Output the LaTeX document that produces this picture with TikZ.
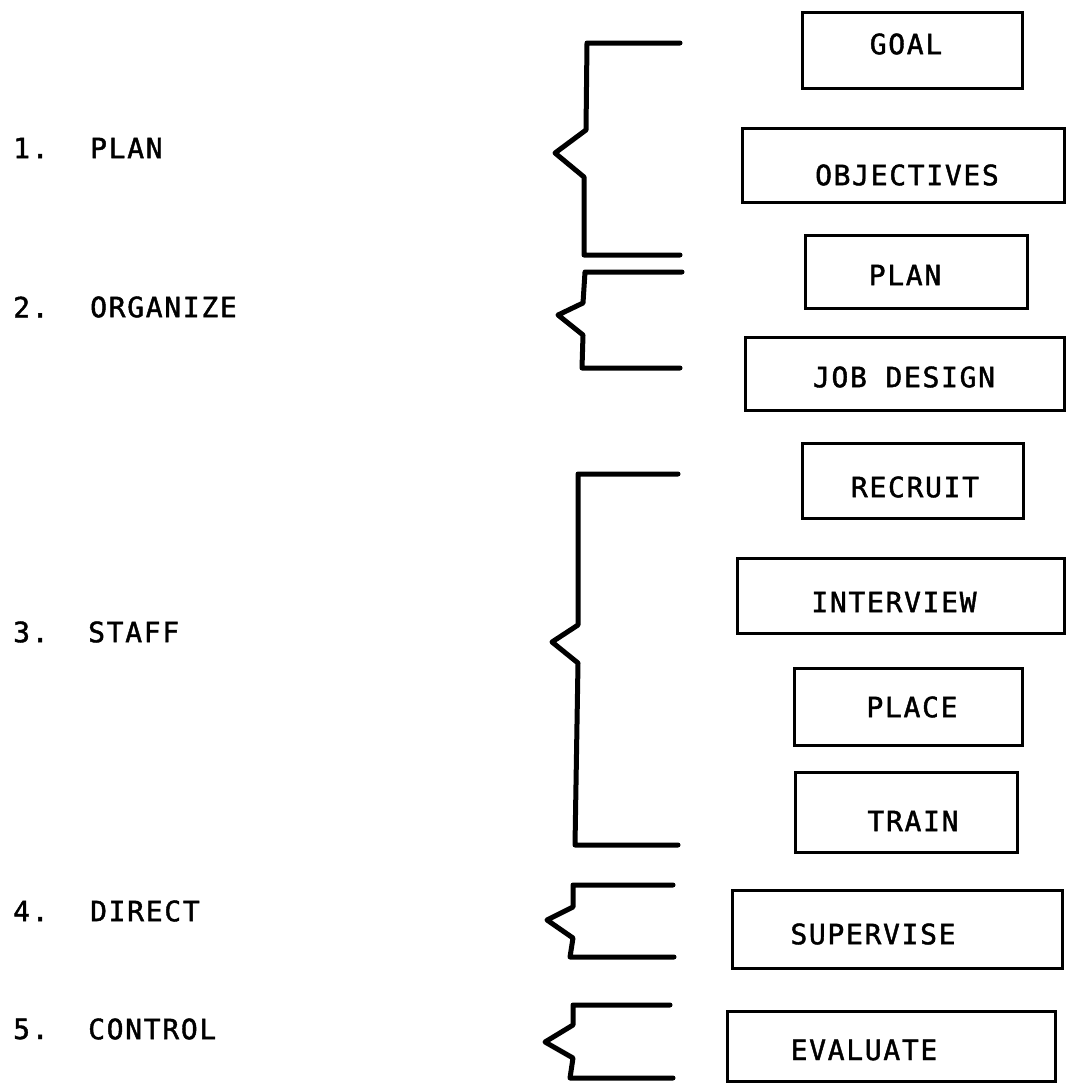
\documentclass[tikz,border=0pt]{standalone}
\usepackage{fontspec}
\newfontfamily\typ[LetterSpace=6,FakeBold=1.5]{DejaVu Sans Mono}
\begin{document}
\begin{tikzpicture}[x=1pt,y=-1pt,
  brace/.style={line width=5pt, line join=round, line cap=round},
  box/.style={draw, line width=3pt, inner sep=0pt},
  txt/.style={inner sep=0pt, font=\typ\fontsize{28}{28}\selectfont},
  lab/.style={txt, anchor=west}]
\useasboundingbox (0,0) rectangle (1066,1084);
% left labels
\node[lab] (n1) at (13,148) {1.};  \node[lab] (l1) at (90,148) {PLAN};
\node[lab] (n2) at (13,307) {2.};  \node[lab] (l2) at (90,307) {ORGANIZE};
\node[lab] (n3) at (13,632) {3.};  \node[lab] (l3) at (88,632) {STAFF};
\node[lab] (n4) at (13,911) {4.};  \node[lab] (l4) at (90,911) {DIRECT};
\node[lab] (n5) at (13,1029) {5.}; \node[lab] (l5) at (88,1029) {CONTROL};
% braces
\draw[brace] (680,43) -- (587,43) -- (586,130) -- (555,153) -- (584,177) -- (584,255) -- (680,255);
\draw[brace] (682,272) -- (585,272) -- (583,303) -- (558,315) -- (583,335) -- (582,368) -- (680,368);
\draw[brace] (678,474) -- (578,474) -- (578,625) -- (552,642) -- (578,663) -- (575,845) -- (678,845);
\draw[brace] (673,885) -- (573,885) -- (573,907) -- (547,920) -- (573,938) -- (570,957) -- (674,957);
\draw[brace] (670,1005) -- (573,1005) -- (573,1025) -- (545,1042) -- (573,1058) -- (570,1078) -- (673,1078);
% boxes
\node[box, minimum width=220pt, minimum height=76pt] (goal) at (912,50) {};
\node[txt] (goalt) at (906,44) {GOAL};
\node[box, minimum width=322pt, minimum height=74pt] (obj) at (903,165) {};
\node[txt] (objt) at (907,175) {OBJECTIVES};
\node[box, minimum width=222pt, minimum height=73pt] (plan) at (916,271.5) {};
\node[txt] (plant) at (905,275) {PLAN};
\node[box, minimum width=319pt, minimum height=73pt] (job) at (904.5,373.5) {};
\node[txt] (jobt) at (904,377) {JOB DESIGN};
\node[box, minimum width=221pt, minimum height=75pt] (rec) at (912.5,480.5) {};
\node[txt] (rect) at (915,487) {RECRUIT};
\node[box, minimum width=327pt, minimum height=75pt] (int) at (900.5,595.5) {};
\node[txt] (intt) at (894,602) {INTERVIEW};
\node[box, minimum width=228pt, minimum height=77pt] (place) at (908,706.5) {};
\node[txt] (placet) at (912,707) {PLACE};
\node[box, minimum width=222pt, minimum height=80pt] (train) at (906,812) {};
\node[txt] (traint) at (913,821) {TRAIN};
\node[box, minimum width=330pt, minimum height=78pt] (sup) at (897,929) {};
\node[txt] (supt) at (873,934) {SUPERVISE};
\node[box, minimum width=328pt, minimum height=70pt] (eval) at (891,1046) {};
\node[txt] (evalt) at (864,1050) {EVALUATE};
\end{tikzpicture}
\end{document}
